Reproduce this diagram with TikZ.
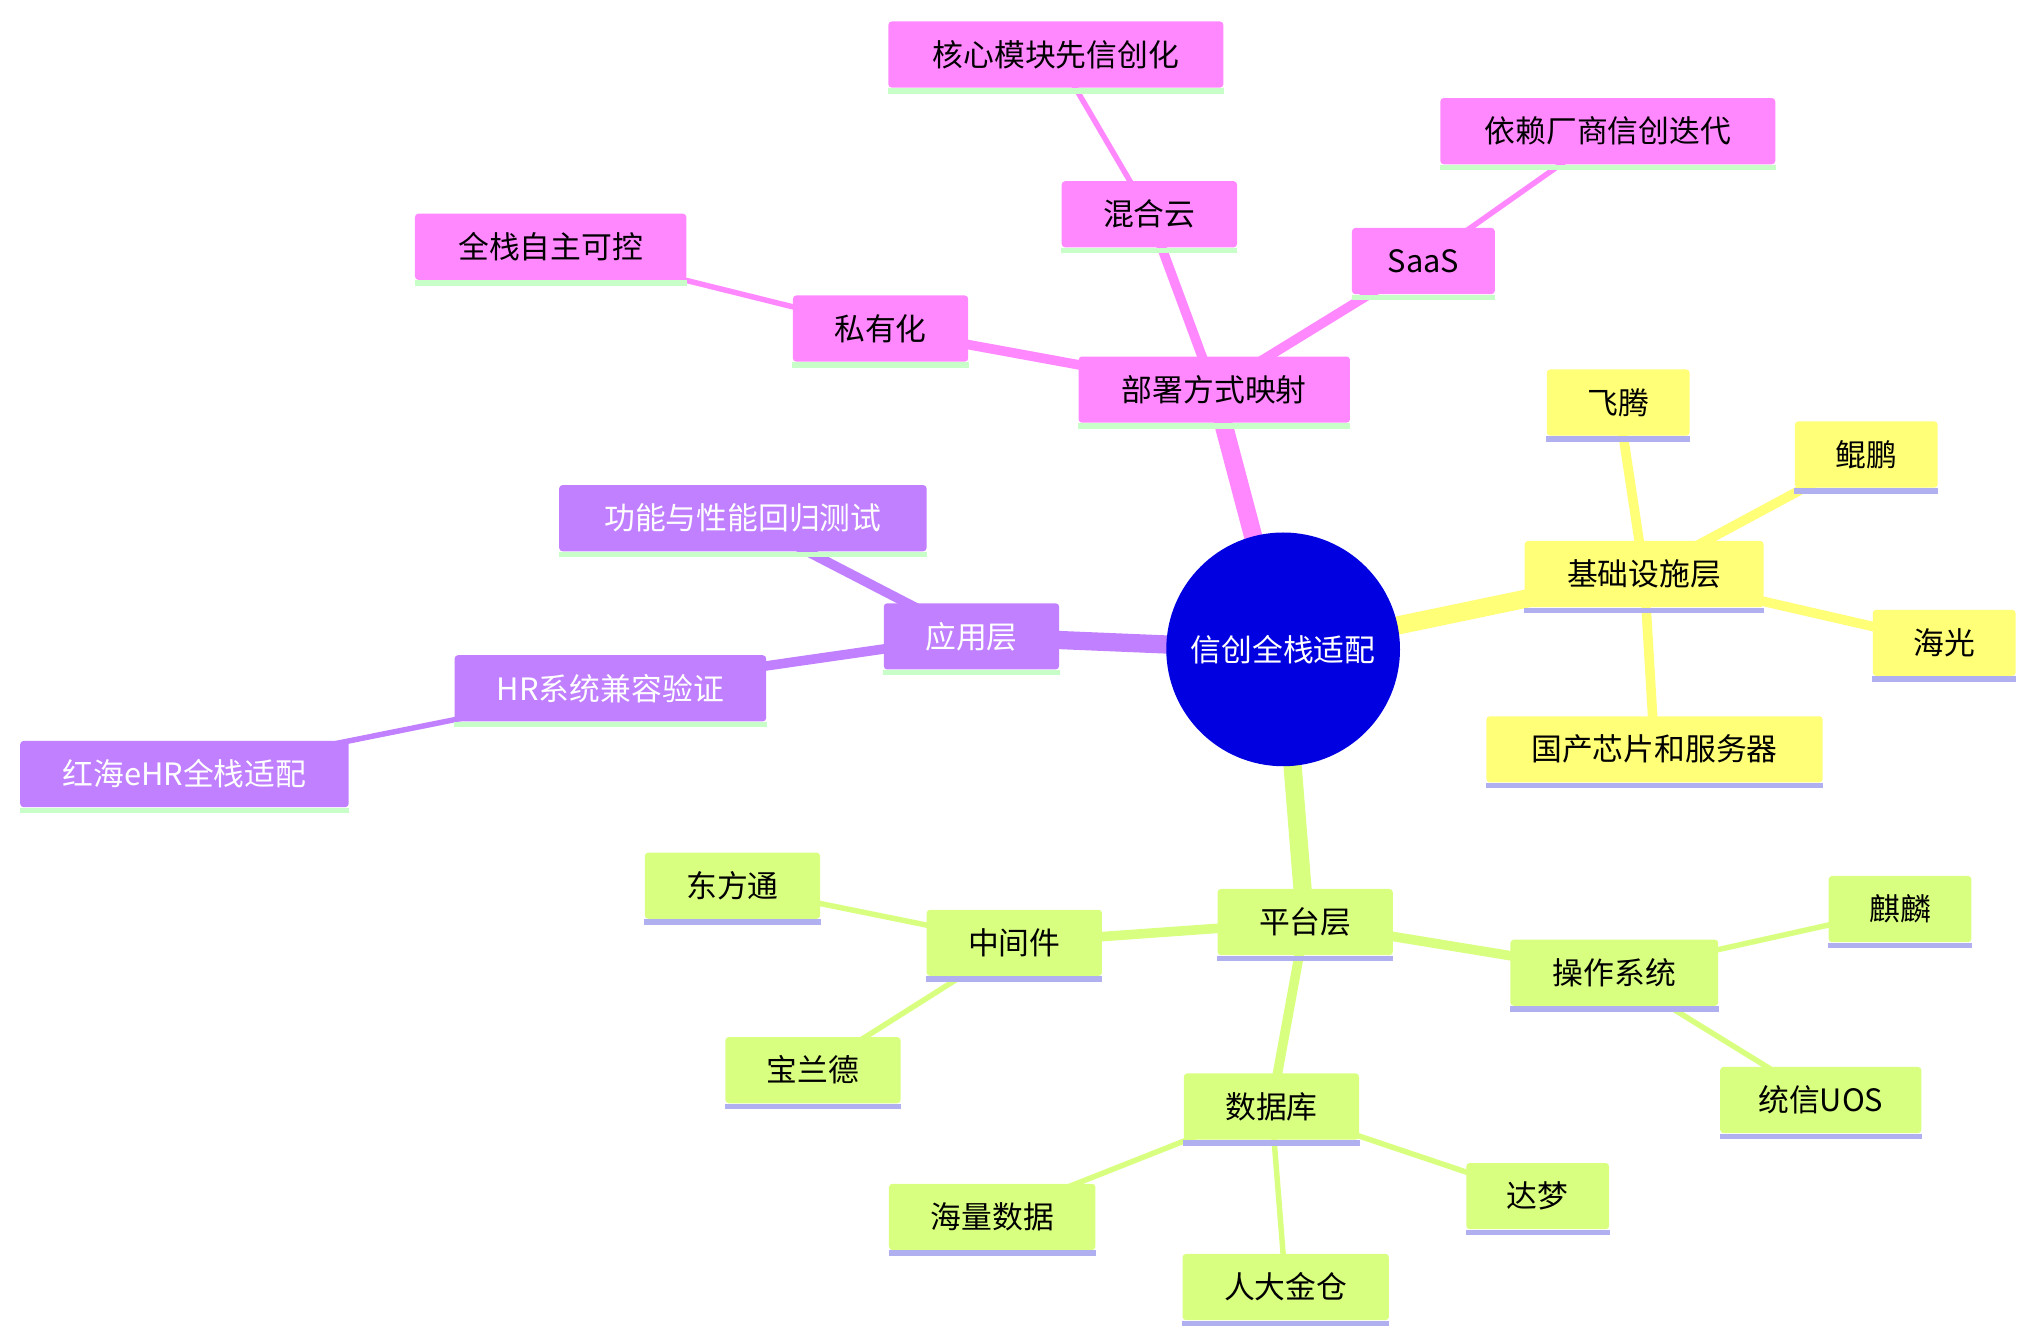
\documentclass[tikz,border=0pt]{standalone}
\usepackage{fontspec}
\setmainfont{Noto Sans CJK SC}
\usetikzlibrary{backgrounds}
\definecolor{pk}{HTML}{FF88FF}
\definecolor{yl}{HTML}{FFFF78}
\definecolor{lm}{HTML}{D9FF80}
\definecolor{pu}{HTML}{C080FF}
\definecolor{ulg}{HTML}{C8FFC8}
\definecolor{ulv}{HTML}{B0B0F0}
\definecolor{rt}{HTML}{0000E0}
\begin{document}
\begin{tikzpicture}[x=0.02cm,y=-0.02cm,
 bx/.style={rectangle,rounded corners=1.5pt,minimum height=1.02cm,inner sep=0pt,font=\fontsize{13.5}{16}\selectfont},
 pkb/.style={bx,fill=pk,text=black},
 ylb/.style={bx,fill=yl,text=black},
 lmb/.style={bx,fill=lm,text=black},
 pub/.style={bx,fill=pu,text=white},
 e1/.style={line width=12pt*0.6},
 e2/.style={line width=4.2pt},
 e3/.style={line width=2.4pt}]
\useasboundingbox (0,0) rectangle (1560,1027);
\node[circle,fill=rt,text=white,minimum size=3.6cm,font=\fontsize{13.5}{16}\selectfont] (root) at (988,500) {信创全栈适配};
\node[pkb,minimum width=4.18cm] (dep) at (935,300) {部署方式映射};
\node[pkb,minimum width=2.7cm] (pri) at (678,253) {私有化};
\node[pkb,minimum width=4.18cm] (pri1) at (424,190) {全栈自主可控};
\node[pkb,minimum width=2.7cm] (hyb) at (885,165) {混合云};
\node[pkb,minimum width=5.16cm] (hyb1) at (813,42) {核心模块先信创化};
\node[pkb,minimum width=2.2cm] (saas) at (1096,201) {SaaS};
\node[pkb,minimum width=5.16cm] (saas1) at (1238,101) {依赖厂商信创迭代};
\node[ylb,minimum width=3.68cm] (inf) at (1266,442) {基础设施层};
\node[ylb,minimum width=2.2cm] (ft) at (1246,310) {飞腾};
\node[ylb,minimum width=2.2cm] (kp) at (1437,350) {鲲鹏};
\node[ylb,minimum width=2.2cm] (hg) at (1497,495) {海光};
\node[ylb,minimum width=5.18cm] (chip) at (1274,577) {国产芯片和服务器};
\node[pub,minimum width=2.7cm] (app) at (748,490) {应用层};
\node[pub,minimum width=5.66cm] (test) at (572,399) {功能与性能回归测试};
\node[pub,minimum width=4.8cm] (hr) at (470,530) {HR系统兼容验证};
\node[pub,minimum width=5.06cm] (ehr) at (142,596) {红海eHR全栈适配};
\node[lmb,minimum width=2.7cm] (plat) at (1005,710) {平台层};
\node[lmb,minimum width=2.7cm] (mid) at (781,726) {中间件};
\node[lmb,minimum width=2.7cm] (dft) at (564,682) {东方通};
\node[lmb,minimum width=2.7cm] (bld) at (626,824) {宝兰德};
\node[lmb,minimum width=3.2cm] (os) at (1243,749) {操作系统};
\node[lmb,minimum width=2.2cm] (ql) at (1463,700) {麒麟};
\node[lmb,minimum width=3.1cm] (uos) at (1402,847) {统信UOS};
\node[lmb,minimum width=2.7cm] (db) at (979,852) {数据库};
\node[lmb,minimum width=3.18cm] (hl) at (764,937) {海量数据};
\node[lmb,minimum width=3.18cm] (rd) at (990,991) {人大金仓};
\node[lmb,minimum width=2.2cm] (dm) at (1184,921) {达梦};
\foreach \n/\c in {dep/ulg,pri/ulg,pri1/ulg,hyb/ulg,hyb1/ulg,saas/ulg,saas1/ulg,app/ulg,test/ulg,hr/ulg,ehr/ulg,
 inf/ulv,ft/ulv,kp/ulv,hg/ulv,chip/ulv,plat/ulv,mid/ulv,dft/ulv,bld/ulv,os/ulv,ql/ulv,uos/ulv,db/ulv,hl/ulv,rd/ulv,dm/ulv}
 \draw[\c,line width=2.4pt] ([yshift=-1.2pt]\n.south west)--([yshift=-1.2pt]\n.south east);
\begin{scope}[on background layer]
\draw[pk,line width=8pt] (root.center)--(dep.center);
\draw[yl,line width=8pt] (root.center)--(inf.center);
\draw[pu,line width=8pt] (root.center)--(app.center);
\draw[lm,line width=8pt] (root.center)--(plat.center);
\draw[pk,e2] (dep.center)--(pri.center); \draw[pk,e2] (dep.center)--(hyb.center); \draw[pk,e2] (dep.center)--(saas.center);
\draw[pk,e3] (pri.center)--(pri1.center); \draw[pk,e3] (hyb.center)--(hyb1.center); \draw[pk,e3] (saas.center)--(saas1.center);
\draw[yl,e2] (inf.center)--(ft.center); \draw[yl,e2] (inf.center)--(kp.center); \draw[yl,e2] (inf.center)--(hg.center); \draw[yl,e2] (inf.center)--(chip.center);
\draw[pu,e2] (app.center)--(test.center); \draw[pu,e2] (app.center)--(hr.center); \draw[pu,e3] (hr.center)--(ehr.center);
\draw[lm,e2] (plat.center)--(mid.center); \draw[lm,e2] (plat.center)--(os.center); \draw[lm,e2] (plat.center)--(db.center);
\draw[lm,e3] (mid.center)--(dft.center); \draw[lm,e3] (mid.center)--(bld.center);
\draw[lm,e3] (os.center)--(ql.center); \draw[lm,e3] (os.center)--(uos.center);
\draw[lm,e3] (db.center)--(hl.center); \draw[lm,e3] (db.center)--(rd.center); \draw[lm,e3] (db.center)--(dm.center);
\end{scope}
\end{tikzpicture}
\end{document}
